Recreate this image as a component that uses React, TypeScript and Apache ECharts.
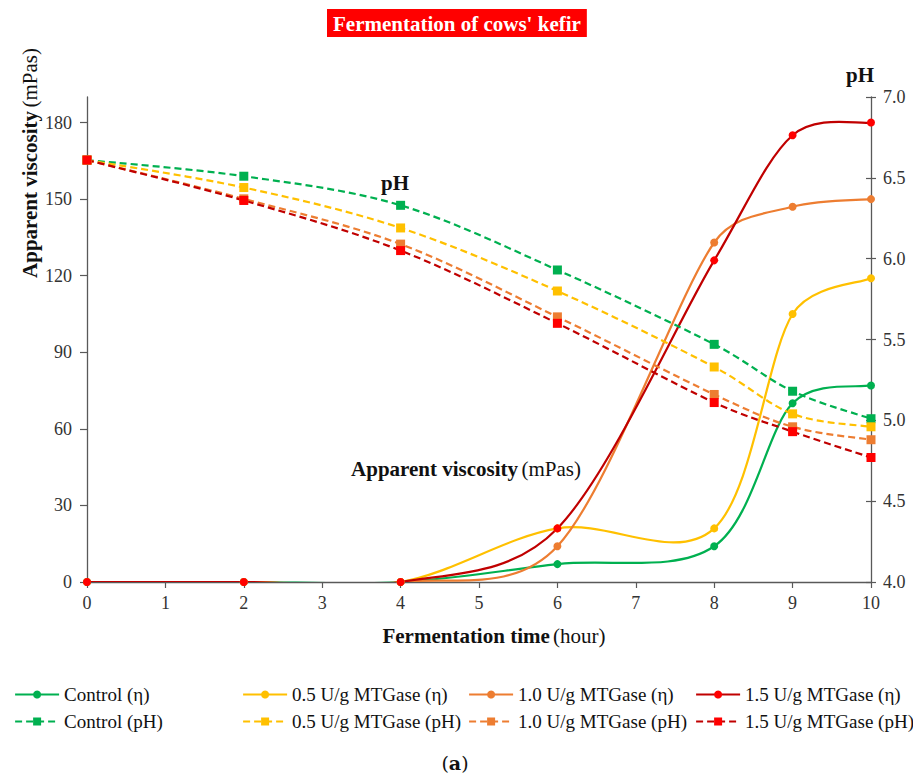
import React, { useEffect, useRef } from "react";
import * as echarts from "echarts";

// Fermentation time points (hours)
const hours = [0, 2, 4, 6, 8, 9, 10];

// Apparent viscosity (mPas)
const viscControl = [0, 0, 0, 7, 14, 70, 77];
const visc05 = [0, 0, 0, 21, 21, 105, 119];
const visc10 = [0, 0, 0, 14, 133, 147, 150];
const visc15 = [0, 0, 0, 21, 126, 175, 180];

// pH
const phControl = [6.61, 6.51, 6.33, 5.93, 5.47, 5.18, 5.01];
const ph05 = [6.61, 6.44, 6.19, 5.8, 5.33, 5.04, 4.96];
const ph10 = [6.61, 6.37, 6.09, 5.64, 5.16, 4.96, 4.88];
const ph15 = [6.61, 6.36, 6.05, 5.6, 5.11, 4.93, 4.77];

// Axis ticks
const xTicks = [0, 1, 2, 3, 4, 5, 6, 7, 8, 9, 10];
const viscTicks = [0, 30, 60, 90, 120, 150, 180];
const phTicks = [4.0, 4.5, 5.0, 5.5, 6.0, 6.5, 7.0];

const SERIF = "'Liberation Serif', 'Times New Roman', serif";

const GREEN = "#00B050";
const YELLOW = "#FFC000";
const ORANGE = "#ED7D31";
const DARKRED = "#C00000";
const RED = "#FF0000";
const DASH = [7, 4];

const pair = (ys: number[]) => hours.map((h, i) => [h, ys[i]]);

// Bezier handle from point b along (to - from)/6, limited to 40% of the segment length
function handle(b: number[], from: number[], to: number[], segLen: number, sign: number) {
  let hx = (to[0] - from[0]) / 6;
  let hy = (to[1] - from[1]) / 6;
  const len = Math.hypot(hx, hy);
  const cap = segLen * 0.4;
  if (len > cap && len > 0) {
    hx *= cap / len;
    hy *= cap / len;
  }
  return [b[0] + sign * hx, b[1] + sign * hy];
}

// Smoothed curve through the series' own points
function curveSeries(ys: number[], axis: number, color: string, dashed: boolean) {
  return {
    type: "custom",
    coordinateSystem: "cartesian2d",
    yAxisIndex: axis,
    data: pair(ys),
    clip: true,
    silent: true,
    z: 1,
    renderItem: (params: any, api: any) => {
      if (params.dataIndex !== 0) return null;
      const n = params.dataInsideLength;
      const p: number[][] = [];
      for (let i = 0; i < n; i++) p.push(api.coord([api.value(0, i), api.value(1, i)]));
      let d = `M${p[0][0]},${p[0][1]}`;
      for (let i = 0; i < n - 1; i++) {
        const a = p[Math.max(i - 1, 0)];
        const b = p[i];
        const c = p[i + 1];
        const e = p[Math.min(i + 2, n - 1)];
        const seg = Math.hypot(c[0] - b[0], c[1] - b[1]);
        const c1 = handle(b, a, c, seg, 1);
        const c2 = handle(c, b, e, seg, -1);
        d += ` C${c1[0]},${c1[1]} ${c2[0]},${c2[1]} ${c[0]},${c[1]}`;
      }
      return {
        type: "path",
        shape: { pathData: d },
        style: {
          fill: "none",
          stroke: color,
          lineWidth: 2.2,
          lineDash: dashed ? DASH : null,
        },
      };
    },
  };
}

// Markers (and legend entry) for a series
function markerSeries(name: string, ys: number[], axis: number, line: string, marker: string, symbol: string) {
  return {
    name,
    type: "line",
    yAxisIndex: axis,
    data: pair(ys),
    symbol,
    symbolSize: axis === 0 ? 8 : 9,
    lineStyle: { color: line, width: 2, opacity: 0 },
    itemStyle: { color: marker, borderWidth: 0 },
    z: 3,
  };
}

function legendItem(name: string, line: string, dashed: boolean) {
  return {
    name,
    lineStyle: { color: line, width: 2.2, opacity: 1, type: dashed ? DASH : "solid" },
  };
}

export default function App() {
  const ref = useRef<HTMLDivElement>(null);

  useEffect(() => {
    document.body.style.margin = "0";
    if (!ref.current) return;
    const chart = echarts.init(ref.current, null, { renderer: "svg" });

    const axisLine = { show: true, lineStyle: { color: "#595959", width: 1.3 } };
    const tickStyle = { color: "#595959", width: 1.2 };
    const labelStyle = { fontFamily: SERIF, fontSize: 18, color: "#333" };
    const legendBase = {
      orient: "vertical",
      top: 680,
      itemWidth: 44,
      itemHeight: 10,
      itemGap: 8,
      textStyle: { fontFamily: SERIF, fontSize: 19, color: "#111" },
      selectedMode: false,
    };
    const rich = {
      b: { fontFamily: SERIF, fontSize: 21, fontWeight: "bold", fill: "#111" },
      n: { fontFamily: SERIF, fontSize: 21, fill: "#111" },
    };

    const option = {
      animation: false,
      backgroundColor: "#fff",
      title: {
        text: "Fermentation of cows' kefir",
        left: 327,
        top: 9,
        padding: [4, 6, 3, 6],
        backgroundColor: RED,
        textStyle: {
          fontFamily: SERIF,
          fontWeight: "bold",
          fontSize: 21,
          color: "#fff",
        },
      },
      grid: { left: 87, right: 42, top: 97, bottom: 194, containLabel: false },
      xAxis: {
        type: "value",
        min: 0,
        max: 10,
        interval: 1,
        splitLine: { show: false },
        axisLine,
        axisTick: { show: true, length: 6, lineStyle: tickStyle, customValues: xTicks },
        axisLabel: { ...labelStyle, margin: 12, customValues: xTicks },
      },
      yAxis: [
        {
          type: "value",
          position: "left",
          min: 0,
          max: 190,
          splitLine: { show: false },
          axisLine,
          axisTick: { show: true, length: 7, lineStyle: tickStyle, customValues: viscTicks },
          axisLabel: { ...labelStyle, margin: 15, customValues: viscTicks },
        },
        {
          type: "value",
          position: "right",
          min: 4,
          max: 7,
          splitLine: { show: false },
          axisLine,
          axisTick: { show: true, length: 5, lineStyle: tickStyle, customValues: phTicks },
          axisLabel: {
            ...labelStyle,
            margin: 12,
            customValues: phTicks,
            formatter: (v: number) => v.toFixed(1),
          },
        },
        {
          // inner half of the right-hand ticks
          type: "value",
          position: "right",
          min: 4,
          max: 7,
          splitLine: { show: false },
          axisLine: { show: false },
          axisTick: { show: true, inside: true, length: 5, lineStyle: tickStyle, customValues: phTicks },
          axisLabel: { show: false },
        },
      ],
      legend: [
        {
          ...legendBase,
          left: 9,
          data: [legendItem("Control (η)", GREEN, false), legendItem("Control (pH)", GREEN, true)],
        },
        {
          ...legendBase,
          left: 237,
          data: [legendItem("0.5 U/g MTGase (η)", YELLOW, false), legendItem("0.5 U/g MTGase (pH)", YELLOW, true)],
        },
        {
          ...legendBase,
          left: 463,
          data: [legendItem("1.0 U/g MTGase (η)", ORANGE, false), legendItem("1.0 U/g MTGase (pH)", ORANGE, true)],
        },
        {
          ...legendBase,
          left: 690,
          data: [legendItem("1.5 U/g MTGase (η)", DARKRED, false), legendItem("1.5 U/g MTGase (pH)", DARKRED, true)],
        },
      ],
      graphic: [
        {
          type: "text",
          x: 30,
          y: 163,
          rotation: Math.PI / 2,
          style: {
            text: "{b|Apparent viscosity} {n|(mPas)}",
            align: "center",
            verticalAlign: "middle",
            rich,
          },
        },
        {
          type: "text",
          x: 466,
          y: 469,
          style: {
            text: "{b|Apparent viscosity} {n|(mPas)}",
            align: "center",
            verticalAlign: "middle",
            rich,
          },
        },
        {
          type: "text",
          x: 494,
          y: 636,
          style: {
            text: "{b|Fermentation time} {n|(hour)}",
            align: "center",
            verticalAlign: "middle",
            rich,
          },
        },
        {
          type: "text",
          x: 395,
          y: 183,
          style: {
            text: "pH",
            align: "center",
            verticalAlign: "middle",
            fontFamily: SERIF,
            fontSize: 21,
            fontWeight: "bold",
            fill: "#111",
          },
        },
        {
          type: "text",
          x: 860,
          y: 75,
          style: {
            text: "pH",
            align: "center",
            verticalAlign: "middle",
            fontFamily: SERIF,
            fontSize: 21,
            fontWeight: "bold",
            fill: "#111",
          },
        },
        {
          type: "text",
          x: 455,
          y: 763,
          style: {
            text: "({b|a})",
            align: "center",
            verticalAlign: "middle",
            fontFamily: "'DejaVu Serif', serif",
            fontSize: 19,
            fill: "#111",
            rich: {
              b: { fontFamily: "'DejaVu Serif', serif", fontSize: 19, fontWeight: "bold", fill: "#111" },
            },
          },
        },
      ],
      series: [
        curveSeries(viscControl, 0, GREEN, false),
        curveSeries(visc05, 0, YELLOW, false),
        curveSeries(visc10, 0, ORANGE, false),
        curveSeries(visc15, 0, DARKRED, false),
        curveSeries(phControl, 1, GREEN, true),
        curveSeries(ph05, 1, YELLOW, true),
        curveSeries(ph10, 1, ORANGE, true),
        curveSeries(ph15, 1, DARKRED, true),
        markerSeries("Control (η)", viscControl, 0, GREEN, GREEN, "circle"),
        markerSeries("0.5 U/g MTGase (η)", visc05, 0, YELLOW, YELLOW, "circle"),
        markerSeries("1.0 U/g MTGase (η)", visc10, 0, ORANGE, ORANGE, "circle"),
        markerSeries("1.5 U/g MTGase (η)", visc15, 0, DARKRED, RED, "circle"),
        markerSeries("Control (pH)", phControl, 1, GREEN, GREEN, "rect"),
        markerSeries("0.5 U/g MTGase (pH)", ph05, 1, YELLOW, YELLOW, "rect"),
        markerSeries("1.0 U/g MTGase (pH)", ph10, 1, ORANGE, ORANGE, "rect"),
        markerSeries("1.5 U/g MTGase (pH)", ph15, 1, DARKRED, RED, "rect"),
      ],
    };

    chart.setOption(option as any);
    return () => chart.dispose();
  }, []);

  return <div ref={ref} style={{ width: 913, height: 776 }} />;
}
